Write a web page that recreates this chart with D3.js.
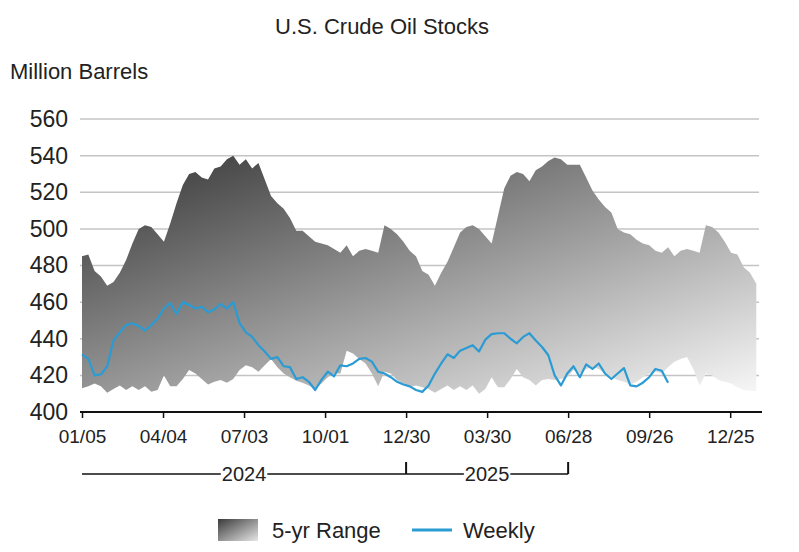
<!DOCTYPE html>
<html>
<head>
<meta charset="utf-8">
<script src="https://cdn.jsdelivr.net/npm/d3@7"></script>
<style>
  body { margin: 0; background: #fff; }
  text { font-family: "Liberation Sans", Arial, sans-serif; fill: #222; }
</style>
</head>
<body>
<script>
// weekly series, first week ending 2024-01-05
const startDate = new Date(2024, 0, 5);

const rangeHigh = [485,486,477,474,469,471,476,483,492,500,502,501,497,493,503,514,524,530,531,528,527,533,534,538,540,535,538,
  533,536,527,518,514,511,506,499,499,496,493,492,491,489,487,491,485,488,489,488,487,502,500,497,493,488,
  485,477,475,469,476,482,490,498,501,502,500,496,492,507,522,529,531,530,526,532,534,537,539,538,535,535,
  535,528,521,516,512,509,500,498,497,494,492,491,488,487,490,485,488,489,488,487,502,501,498,493,487,486,479,476,470];

const rangeLow = [413,414,415.5,414,410.5,412.5,414.5,412,414,412,414,411,412,420,414,414,418,423,421,418,415,416.5,417.5,416,418,423,425.5,
  424.5,422,425.5,429,424.5,421,419,417,416,414.5,412.5,415.5,419,421,421,433.5,432,429,426.5,421,414,422,421,417.5,415.5,413.5,
  414.5,413.5,412.5,410.5,412.5,414.5,412,414,412,414.5,410,412.5,419,413.5,413.5,418,423.5,419,417.5,414.5,417.5,418,417.5,418,419,423,
  421,423.5,424.5,423.5,421,419,417.5,416.5,415,416.5,419,421,422,421,424.5,427.5,429,430,423.5,414.5,421,420,417.5,416.5,415.5,413.5,412,411.5,411.5];

const weekly = [431.5,429,420,420.5,425,439,443.5,447.5,448.5,447,444.5,447.5,451,456.5,459.5,453.5,460,458.5,456.5,457.5,454.5,456,459,456.5,460,448.5,443.5,
  441,436.5,433,429,430,425,424.5,418,419,416.5,412,417.5,422,419.5,425.5,425,426.5,429,429.5,427.5,422,421,419,416.5,415,414,
  412,411,414.5,421,426.5,431.5,429.5,433.5,435,436.5,433,439.5,442.5,443,443,440,437.5,441,443,439,435.5,431,420,414.5,421,425,
  419,426,423.5,426.5,421,418,421,424,414.5,414,416,419,423.5,422.5,416];

const xTickDates = ["2024-01-05","2024-04-04","2024-07-03","2024-10-01","2024-12-30","2025-03-30","2025-06-28","2025-09-26","2025-12-25"];
const yTicks = [400, 420, 440, 460, 480, 500, 520, 540, 560];
const years = [
  { label: "2024", from: "2024-01-05", to: "2024-12-30" },
  { label: "2025", from: "2024-12-30", to: "2025-06-28" }
];

const parse = d3.timeParse("%Y-%m-%d");
const weekDate = i => d3.timeDay.offset(startDate, 7 * i);

const rangeData = rangeHigh.map((h, i) => ({ date: weekDate(i), high: h, low: rangeLow[i] }));
const weeklyData = weekly.map((v, i) => ({ date: weekDate(i), value: v }));

const width = 799, height = 552;
const plot = { left: 82, right: 759, top: 119, bottom: 412 };

const svg = d3.select("body").append("svg")
    .attr("width", width)
    .attr("height", height);

const xScale = d3.scaleTime()
    .domain([startDate, parse("2026-01-26")])
    .range([plot.left, plot.right]);

const yScale = d3.scaleLinear()
    .domain([400, 560])
    .range([plot.bottom, plot.top]);

const defs = svg.append("defs");
const grad = defs.append("linearGradient")
    .attr("id", "rangeFill")
    .attr("x1", 0).attr("y1", 0).attr("x2", 1).attr("y2", 1);
grad.append("stop").attr("offset", "0%").attr("stop-color", "#333333");
grad.append("stop").attr("offset", "100%").attr("stop-color", "#f7f7f7");

// title
svg.append("text")
    .attr("x", 382)
    .attr("y", 34)
    .attr("text-anchor", "middle")
    .attr("font-size", "22px")
    .text("U.S. Crude Oil Stocks");

svg.append("text")
    .attr("x", 10)
    .attr("y", 79)
    .attr("font-size", "22px")
    .text("Million Barrels");

// gridlines
svg.append("g")
    .selectAll("line")
    .data(yTicks.filter(d => d > 400))
    .join("line")
    .attr("x1", plot.left - 2)
    .attr("x2", plot.right)
    .attr("y1", d => yScale(d))
    .attr("y2", d => yScale(d))
    .attr("stroke", "#c4c4c4")
    .attr("stroke-width", 1.5);

// y labels
const yAxis = d3.axisLeft(yScale)
    .tickValues(yTicks)
    .tickSize(0)
    .tickPadding(12);

svg.append("g")
    .attr("transform", `translate(${plot.left - 2},0)`)
    .call(yAxis)
    .call(g => g.select(".domain").remove())
    .call(g => g.selectAll("text")
        .attr("font-size", "23px")
        .attr("font-family", "Liberation Sans, Arial, sans-serif")
        .attr("fill", "#222"));

// 5-yr range
const area = d3.area()
    .x(d => xScale(d.date))
    .y0(d => yScale(d.low))
    .y1(d => yScale(d.high));

svg.append("path")
    .datum(rangeData)
    .attr("d", area)
    .attr("fill", "url(#rangeFill)");

// weekly line
const line = d3.line()
    .x(d => xScale(d.date))
    .y(d => yScale(d.value));

svg.append("path")
    .datum(weeklyData)
    .attr("d", line)
    .attr("fill", "none")
    .attr("stroke", "#2b9bd3")
    .attr("stroke-width", 2.2)
    .attr("stroke-linejoin", "round");

// x axis
const xAxis = d3.axisBottom(xScale)
    .tickValues(xTickDates.map(parse))
    .tickFormat(d3.timeFormat("%m/%d"))
    .tickSizeOuter(0)
    .tickSize(6)
    .tickPadding(12);

svg.append("g")
    .attr("transform", `translate(0,${plot.bottom})`)
    .call(xAxis)
    .call(g => g.select(".domain")
        .attr("d", `M${plot.left - 2},0H${plot.right + 3}`)
        .attr("stroke", "#111")
        .attr("stroke-width", 2))
    .call(g => g.selectAll(".tick line").attr("stroke", "#111").attr("stroke-width", 1.5))
    .call(g => g.selectAll("text")
        .attr("font-size", "19px")
        .attr("font-family", "Liberation Sans, Arial, sans-serif")
        .attr("fill", "#222"));

// year brackets
const yearY = 474;
const yearG = svg.append("g");

years.forEach(yr => {
    const x0 = xScale(parse(yr.from));
    const x1 = xScale(parse(yr.to));
    yearG.append("line")
        .attr("x1", x0).attr("x2", x1)
        .attr("y1", yearY).attr("y2", yearY)
        .attr("stroke", "#111")
        .attr("stroke-width", 1.5);
    yearG.append("line")
        .attr("x1", x1).attr("x2", x1)
        .attr("y1", yearY - 12).attr("y2", yearY)
        .attr("stroke", "#111")
        .attr("stroke-width", 2);
    const t = yearG.append("text")
        .attr("x", (x0 + x1) / 2)
        .attr("y", yearY + 7)
        .attr("text-anchor", "middle")
        .attr("font-size", "20px")
        .text(yr.label);
    const bb = t.node().getBBox();
    yearG.insert("rect", () => t.node())
        .attr("x", bb.x - 1)
        .attr("y", yearY - 3)
        .attr("width", bb.width + 2)
        .attr("height", 6)
        .attr("fill", "#fff");
});

// legend
const lgGrad = defs.append("linearGradient")
    .attr("id", "legendFill")
    .attr("x1", 0).attr("y1", 0).attr("x2", 1).attr("y2", 1);
lgGrad.append("stop").attr("offset", "0%").attr("stop-color", "#3a3a3a");
lgGrad.append("stop").attr("offset", "100%").attr("stop-color", "#e6e6e6");

const legend = svg.append("g")
    .attr("transform", "translate(218,530)");

legend.append("rect")
    .attr("x", 0)
    .attr("y", -11)
    .attr("width", 40)
    .attr("height", 22)
    .attr("fill", "url(#legendFill)");

legend.append("text")
    .attr("x", 54)
    .attr("y", 8)
    .attr("font-size", "22px")
    .text("5-yr Range");

legend.append("line")
    .attr("x1", 194).attr("x2", 234)
    .attr("y1", 0).attr("y2", 0)
    .attr("stroke", "#2b9bd3")
    .attr("stroke-width", 3);

legend.append("text")
    .attr("x", 245)
    .attr("y", 8)
    .attr("font-size", "22px")
    .text("Weekly");
</script>
</body>
</html>
